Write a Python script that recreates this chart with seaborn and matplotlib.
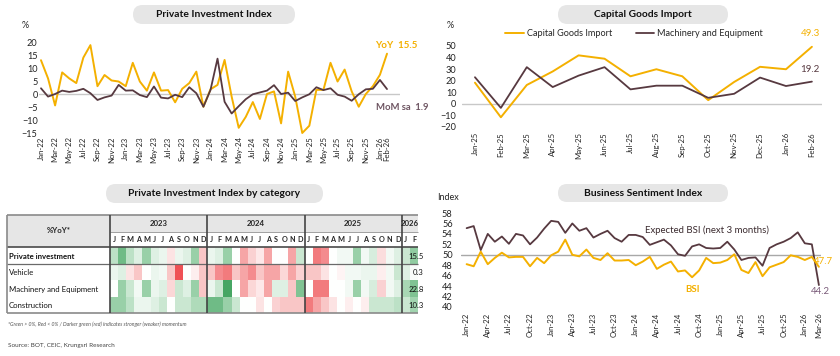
import numpy as np
import pandas as pd
import matplotlib
matplotlib.use("Agg")
import matplotlib.pyplot as plt
from matplotlib.patches import FancyBboxPatch, Rectangle
from matplotlib.colors import LinearSegmentedColormap
from matplotlib.transforms import IdentityTransform
import seaborn as sns

# --- donnees ---------------------------------------------------------------
# Private Investment Index (Jan-22 .. Feb-26)
pii_months = pd.date_range("2022-01-01", "2026-02-01", freq="MS").strftime("%b-%y").tolist()
pii_yoy = [13, 6, -4.4, 8.3, 6, 4.2, 14, 18.8, 3, 7.3, 5.2, 4.8,
           3, 12, 4.8, 1.3, 8.3, 1.3, 1.5, -3.2, 2, 4.2, 8.6, -4.9,
           1.8, 3.5, 13.1, -1, -13, -8.8, -3.1, -9.6, 0, 1, -11.3, 8.6,
           -1, -15, -12.2, 1.6, 1.6, 12, 4.8, 9.4, 1, -4.9, 0, 3,
           7.4, 15.5]
pii_mom = [2.2, -1, 0, 1.3, 0.8, 1.2, 2, 0.3, -2.3, -1.3, -0.6, 3.5,
           1.3, 1.4, -0.4, -1.2, 2.9, -1.4, -1.7, -0.3, -1.2, 2.6, 0.3, -4.9,
           1.5, 13.6, -3, -7.5, -4.7, -2, -0.1, 0.6, 1.3, 3.4, 0, 0.5,
           -2.7, -1.3, -0.1, 2.6, 1.5, 2.2, -0.3, -1, -2.6, -0.1, 1.8, 2,
           5.4, 1.9]

# Capital Goods Import (Jan-25 .. Feb-26)
cg_months = ["Jan-25", "Feb-25", "Mar-25", "Apr-25", "May-25", "Jun-25", "Jul-25",
             "Aug-25", "Sep-25", "Oct-25", "Nov-25", "Dec-25", "Jan-26", "Feb-26"]
cg_import = [18.3, -11.6, 16.3, 28, 41.9, 39, 23.8, 29.9, 23.8, 3.2, 18.9, 32, 29.9, 49.3]
cg_machinery = [23, -3.5, 31.7, 14.5, 24.4, 31.7, 12.5, 15.7, 15.7, 5.2, 8.7, 22.7, 15.4, 19.2]

# Business Sentiment Index (Jan-22 .. Mar-26)
bsi_months = pd.date_range("2022-01-01", "2026-03-01", freq="MS").strftime("%b-%y").tolist()
bsi_expected = [55.1, 55.5, 50.9, 54.0, 52.5, 53.5, 52.1, 54.0, 53.7, 52.0, 53.3, 55.0,
                56.5, 56.3, 54.2, 56.0, 54.6, 55.1, 53.3, 54.0, 54.6, 53.2, 52.5, 53.8,
                53.8, 53.4, 51.9, 52.4, 52.9, 51.8, 50.1, 49.8, 51.6, 52.0, 51.3, 51.2,
                51.3, 52.5, 51.0, 49.0, 49.4, 49.5, 47.9, 51.3, 52.0, 52.5, 53.2, 54.3,
                52.2, 52.0, 44.2]
bsi_current = [48.2, 47.8, 50.6, 48.2, 49.4, 50.4, 49.5, 49.6, 49.6, 47.8, 49.4, 48.4,
               49.9, 50.6, 52.9, 50.0, 49.7, 51.0, 49.4, 49.0, 50.3, 48.9, 48.9, 49.0,
               48.0, 48.7, 49.6, 47.3, 48.1, 48.7, 46.8, 47.0, 45.7, 47.0, 49.4, 48.4,
               48.5, 49.0, 50.1, 47.1, 46.5, 48.6, 45.9, 47.6, 48.1, 48.6, 49.9, 49.6,
               49.0, 49.6, 47.7]

cat_names = ["Private investment", "Vehicle", "Machinery and Equipment", "Construction"]
cat_last = ["15.5", "0.3", "22.8", "10.3"]
heat_years = ["2023", "2024", "2025", "2026"]
heat_letters = list("JFMAMJJASOND") * 3 + ["J", "F"]
heat_private = [1, 2, 1, 0.5, 1.5, 0.5, 0.3, -0.5, 0.3, 0.5, 1.5, -1,
                0.3, 0.5, 1.5, 0, -1.5, -0.8, -0.4, -1.5, 0, 0, -1.5, 0.8,
                0, -2, -1.8, 0, 0.2, 0.2, 1.5, 0.2, 0.6, -0.6, 0.2, 0.5,
                0.8, 1.6]
heat_vehicle = [0.3, 0.5, -0.5, -1, 0, 0.3, 0.2, -1, -2.5, 0, -0.3, -1,
                -1, -1.8, -2, -1, -1.5, -1.8, -1, -1.5, -1.5, -0.7, -1.5, -0.8,
                -1, -1, -0.5, 0, -0.2, 0.2, 0.2, 0.3, 0.3, -0.3, 0.2, 0.8,
                0.5, 0.1]
heat_machinery = [0, 1.5, 0.8, 0.2, 1.5, 0.3, 0.5, -0.7, 0.8, 0.5, 1.5, -1,
                  0.3, 0.8, 2.5, 0, -1.5, -0.7, -0.4, -1.5, 0.5, 0.5, -1, 1.8,
                  0, -2, -2, 0, 0, 0.2, 1.5, 0.2, 0.6, -0.8, 0.2, 0.5,
                  1.3, 1.8]
heat_construction = [1.5, 1.5, 1, 0.3, 0.3, 0.5, 0.8, 0, 0.8, 0.8, 1.2, 1.2,
                     2, 2, 1.5, 0.8, 0, 0, -0.5, 0, -0.8, -1, -1, -1,
                     -2, -1.5, -1, -0.5, 0, -0.3, 0, -0.3, 0.8, 0.8, 0.8, 1,
                     0.8, 1.4]

# --- style -----------------------------------------------------------------
sns.set_style("white")
plt.rcParams['font.family'] = ['Lato', 'DejaVu Sans']

ORANGE = '#F4B000'
BROWN = '#573940'
W, H = 840, 356

fig = plt.figure(figsize=(8.4, 3.56), dpi=100)


def px_axes(left, top, right, bottom):
    # axes placees en pixels (origine en haut a gauche)
    return fig.add_axes([left / W, 1 - bottom / H, (right - left) / W, (bottom - top) / H])


def ftext(x, y, s, **kw):
    fig.text(x / W, 1 - y / H, s, **kw)


def pill(cx, cy, w, h, title):
    p = FancyBboxPatch((cx - w / 2, H - cy - h / 2), w, h,
                       boxstyle=f"round,pad=0,rounding_size={h / 2}",
                       fc='#E6E6E6', ec='none', transform=IdentityTransform())
    fig.add_artist(p)
    ftext(cx, cy, title, ha='center', va='center', fontsize=7.4, fontweight='bold', color='#111111')


def style_ax(ax):
    sns.despine(ax=ax, left=True, bottom=True)
    ax.tick_params(length=0, colors='#222222')
    ax.grid(False)


# PARTIE 1 : Private Investment Index ******************************************
pill(214, 14.5, 162, 19, "Private Investment Index")
ax1 = px_axes(39, 39.4, 400, 134.3)
x1 = np.arange(len(pii_months))
ax1.axhline(0, color='#C8C8C8', lw=1, zorder=0)
sns.lineplot(x=x1, y=pii_yoy, ax=ax1, color=ORANGE, lw=1.4)
sns.lineplot(x=x1, y=pii_mom, ax=ax1, color=BROWN, lw=1.3)
ax1.set_xlim(-0.28, 50.84)
ax1.set_ylim(-15.5, 21)
ax1.set_yticks(range(-15, 21, 5))
t1 = list(range(0, 49, 2)) + [49]
ax1.set_xticks(t1)
ax1.set_xticklabels([pii_months[i] for i in t1], rotation=90, fontsize=5.6)
ax1.tick_params(axis='y', labelsize=6.6, pad=1)
ax1.tick_params(axis='x', pad=1.5)
style_ax(ax1)
ftext(22, 25, "%", fontsize=6.5, va='center')
ftext(375, 46, "YoY  15.5", fontsize=7, fontweight='bold', color=ORANGE, va='center')
ftext(376, 107, "MoM sa  1.9", fontsize=6.8, fontweight='bold', color='#6E5562', va='center')

# PARTIE 2 : Capital Goods Import **********************************************
pill(643, 14.5, 170, 19, "Capital Goods Import")
ax2 = px_axes(462, 40.2, 822, 129.3)
x2 = np.arange(len(cg_months))
ax2.axhline(0, color='#C8C8C8', lw=1, zorder=0)
sns.lineplot(x=x2, y=cg_import, ax=ax2, color=ORANGE, lw=1.4, label="Capital Goods Import")
sns.lineplot(x=x2, y=cg_machinery, ax=ax2, color=BROWN, lw=1.3, label="Machinery and Equipment")
ax2.set_xlim(-0.5, 13.39)
ax2.set_ylim(-22, 55)
ax2.set_yticks(range(-20, 51, 10))
ax2.set_xticks(x2)
ax2.set_xticklabels(cg_months, rotation=90, fontsize=5.6)
ax2.tick_params(axis='y', labelsize=6.6, pad=4)
ax2.tick_params(axis='x', pad=2)
style_ax(ax2)
ax2.legend(ncol=2, frameon=False, fontsize=6.6, handlelength=2.0, handletextpad=0.3,
           columnspacing=2.6, loc='center', bbox_to_anchor=(634 / W, 1 - 34 / H),
           bbox_transform=fig.transFigure)
ftext(447, 25, "%", fontsize=6.5, va='center')
ftext(810, 33, "49.3", fontsize=7, color=ORANGE, ha='center', va='center')
ftext(810, 69, "19.2", fontsize=7, color=BROWN, ha='center', va='center')

# PARTIE 3 : heatmap par categorie *********************************************
pill(214.5, 193.5, 217, 19, "Private Investment Index by category")
heat = pd.DataFrame([heat_private, heat_vehicle, heat_machinery, heat_construction],
                    index=cat_names)
cmap = LinearSegmentedColormap.from_list("rg", ['#EE4A4E', '#F7B5B6', '#FFFFFF', '#A9D8B5', '#3FA35E'])
ax3 = px_axes(110, 247, 418, 313)
sns.heatmap(heat, ax=ax3, cmap=cmap, vmin=-2.6, vmax=2.6, cbar=False,
            xticklabels=False, yticklabels=False)
ax3.set_xlabel("")
ax3.set_ylabel("")
L = -12.7
top = -1.94
mid = -0.91
# fonds gris de l'entete
ax3.add_patch(Rectangle((L, top), -L, -top, fc='#E6E6E6', ec='none', clip_on=False))
ax3.add_patch(Rectangle((0, top), 38, mid - top, fc='#E6E6E6', ec='none', clip_on=False))
ax3.add_patch(Rectangle((0, mid), 38, -mid, fc='white', ec='none', clip_on=False))
ax3.add_patch(Rectangle((L, 0), -L, 4, fc='white', ec='none', clip_on=False))
ax3.text(L / 2, top / 2, "%YoY*", ha='center', va='center', fontsize=5.6, fontweight='bold')
for i, yr in enumerate(heat_years):
    cx = 6 + 12 * i if i < 3 else 37
    ax3.text(cx, (top + mid) / 2, yr, ha='center', va='center', fontsize=5.6, fontweight='bold')
for j, m in enumerate(heat_letters):
    ax3.text(j + 0.5, mid / 2, m, ha='center', va='center', fontsize=5.2, fontweight='bold')
for r, name in enumerate(cat_names):
    ax3.text(L + 0.25, r + 0.55, name, ha='left', va='center', fontsize=5.6,
             fontweight='bold' if r == 0 else 'normal', color='#111111')
    ax3.text(38.7, r + 0.55, cat_last[r], ha='right', va='center', fontsize=5.6, color='#111111')
# lignes du tableau
lk = dict(clip_on=False, solid_capstyle='butt')
ax3.plot([L, 38], [top, top], color='#8A8A8A', lw=1.2, **lk)
ax3.plot([L, 38], [0, 0], color='#4A4A4A', lw=1.2, **lk)
ax3.plot([L, 38], [1, 1], color='#6A6A6A', lw=0.9, **lk)
ax3.plot([L, 38], [4, 4], color='#8A8A8A', lw=1.2, **lk)
ax3.plot([0, 38], [mid, mid], color='#A0A0A0', lw=0.7, **lk)
ax3.plot([L, L], [top, 4], color='#8A8A8A', lw=1.2, **lk)
for xv in [0, 12, 24, 36]:
    ax3.plot([xv, xv], [top, 4], color='#444444', lw=1.2, **lk)
ax3.set_axis_off()
ftext(8, 324, "*Green > 0%, Red < 0% / Darker green (red) indicates stronger (weaker) momentum",
      fontsize=3.7, style='italic', color='#555555', va='center')
ftext(8, 346, "Source: BOT, CEIC, Krungsri Research", fontsize=4.6, color='#444444', va='center')

# PARTIE 4 : Business Sentiment Index ******************************************
pill(643, 193, 170, 18, "Business Sentiment Index")
ax4 = px_axes(461, 210.4, 821, 309.6)
x4 = np.arange(len(bsi_months))
ax4.axhline(50, color='#A8A8A8', lw=1, zorder=0)
sns.lineplot(x=x4, y=bsi_expected, ax=ax4, color=BROWN, lw=1.3)
sns.lineplot(x=x4, y=bsi_current, ax=ax4, color=ORANGE, lw=1.4)
ax4.set_xlim(-0.8, 50.3)
ax4.set_ylim(39.5, 58.5)
ax4.set_yticks(range(40, 59, 2))
t4 = list(range(0, 49, 3)) + [50]
ax4.set_xticks(t4)
ax4.set_xticklabels([bsi_months[i] for i in t4], rotation=90, fontsize=5.6)
ax4.tick_params(axis='y', labelsize=6.6, pad=6)
ax4.tick_params(axis='x', pad=2)
style_ax(ax4)
ftext(437, 197, "Index", fontsize=6.5, va='center')
ftext(645, 230, "Expected BSI (next 3 months)", fontsize=6.9, color='#3A2A2E', va='center')
ftext(685, 289, "BSI", fontsize=6.9, fontweight='bold', color=ORANGE, va='center')
ftext(814, 262, "47.7", fontsize=6.9, color=ORANGE, va='center')
ftext(811, 292, "44.2", fontsize=6.9, color='#7B5C7A', va='center')

fig.savefig("out.png", dpi=100)
